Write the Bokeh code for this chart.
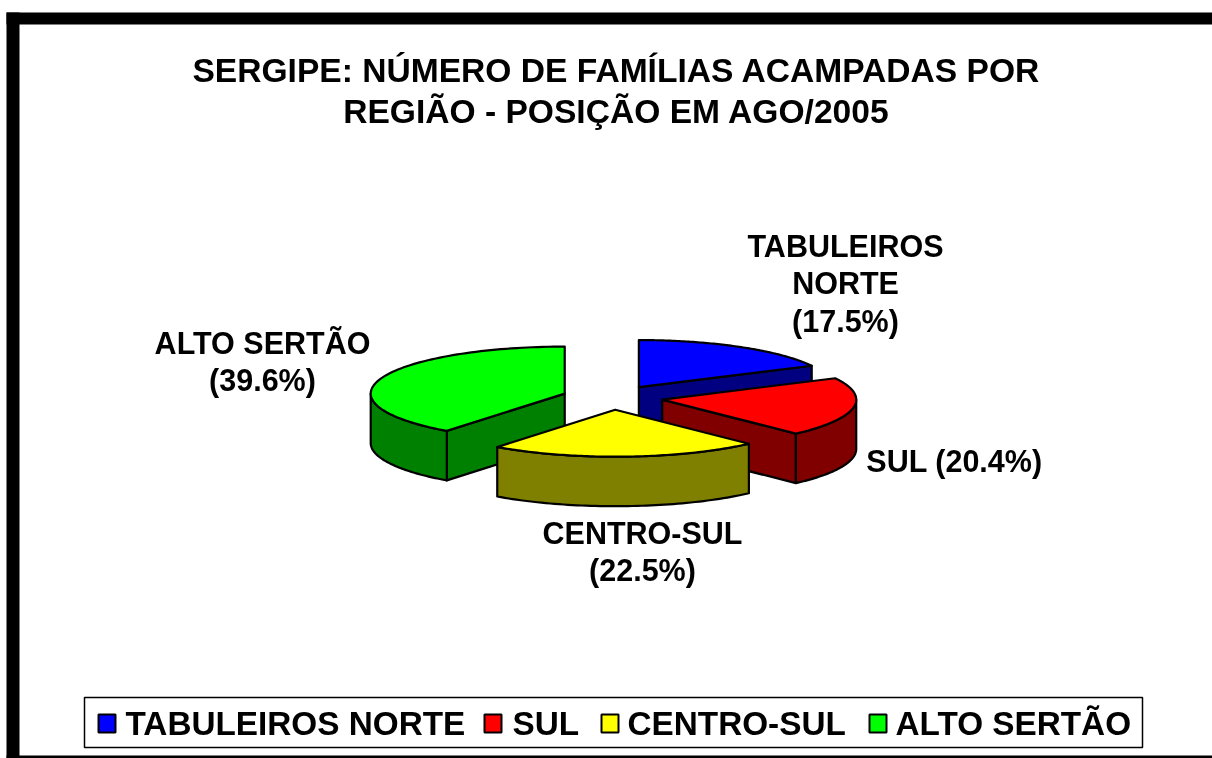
import numpy as np
from bokeh.plotting import figure
from bokeh.core.properties import value
from bokeh.embed import file_html
from bokeh.resources import INLINE

TITLE_LINES = ["SERGIPE: NÚMERO DE FAMÍLIAS ACAMPADAS POR", "REGIÃO - POSIÇÃO EM AGO/2005"]
regions = ["TABULEIROS NORTE", "SUL", "CENTRO-SUL", "ALTO SERTÃO"]
shares = [17.5, 20.4, 22.5, 39.6]
top_colors = ["#0000FF", "#FF0000", "#FFFF00", "#00FF00"]
side_colors = ["#000080", "#800000", "#808000", "#008000"]
slice_labels = [["TABULEIROS", "NORTE", "(17.5%)"], ["SUL (20.4%)"], ["CENTRO-SUL", "(22.5%)"], ["ALTO SERTÃO", "(39.6%)"]]
label_pos = [(845, 245), (954, 460), (642, 532), (262, 342)]

W, H = 1212, 758
CX, CY, A, B, DEPTH, EXPLODE = 612, 397, 194, 47, 49.5, 0.26
FONT = value("Liberation Sans")

p = figure(width=W, height=H, x_range=(0, W), y_range=(H, 0), toolbar_location=None,
           output_backend="svg", min_border=0, outline_line_color=None,
           background_fill_color="white", border_fill_color="white")
p.styles = {"position": "fixed", "left": "0px", "top": "0px"}
p.xaxis.visible = False
p.yaxis.visible = False
p.grid.visible = False

# page frame
p.quad(left=[6, 6, 6], right=[19, W, W], top=[12, 12, 755], bottom=[H, 24, H], color="black", line_width=0)


def pt(theta, ax, ay, r=1.0):
    return ax + r * A * np.sin(theta), ay - r * B * np.cos(theta)


edges = np.radians(np.concatenate([[0], np.cumsum(shares)]) * 3.6)
edges[-1] = 2 * np.pi
LW = 2.2
for i in [0, 1, 3, 2]:
    a0, a1 = edges[i], edges[i + 1]
    mid = (a0 + a1) / 2
    ax, ay = pt(mid, CX, CY, EXPLODE)
    # radial faces turned towards the viewer
    for th, sgn in ((a0, -1), (a1, 1)):
        if np.cos(th + sgn * np.pi / 2) < -1e-6:
            ex, ey = pt(th, ax, ay)
            p.patch([ax, ex, ex, ax], [ay, ey, ey + DEPTH, ay + DEPTH],
                    fill_color=side_colors[i], line_color="black", line_width=LW, line_join="round")
    # outer wall
    lo, hi = max(a0, np.pi / 2), min(a1, 3 * np.pi / 2)
    if hi > lo:
        t = np.linspace(lo, hi, 60)
        wx, wy = pt(t, ax, ay)
        p.patch(np.r_[wx, wx[::-1]], np.r_[wy, wy[::-1] + DEPTH],
                fill_color=side_colors[i], line_color="black", line_width=LW, line_join="round")
    # top
    t = np.linspace(a0, a1, 90)
    tx, ty = pt(t, ax, ay)
    p.patch(np.r_[ax, tx], np.r_[ay, ty], fill_color=top_colors[i], line_color="black",
            line_width=LW, line_join="round")

# title
p.text(x=[616, 616], y=[70, 111], text=TITLE_LINES, text_font=FONT, text_font_style="bold",
       text_font_size="33.6px", text_align="center", text_baseline="middle", text_color="black")

# slice labels
for lines, (lx, ly) in zip(slice_labels, label_pos):
    ys = [ly + 37.5 * k for k in range(len(lines))]
    p.text(x=[lx] * len(lines), y=ys, text=lines, text_font=FONT, text_font_style="bold",
           text_font_size="30.5px", text_align="center", text_baseline="middle", text_color="black")

# legend
p.quad(left=[84], right=[1142], top=[697], bottom=[747], fill_color="white", line_color="black", line_width=1.5)
swatch_x = [98, 484, 601, 869]
text_x = [125, 512, 627, 895]
p.quad(left=swatch_x, right=[s + 17 for s in swatch_x], top=[714] * 4, bottom=[732] * 4,
       fill_color=top_colors, line_color="black", line_width=2)
p.text(x=text_x, y=[723] * 4, text=regions, text_font=FONT, text_font_style="bold",
       text_font_size="33.3px", text_align="left", text_baseline="middle", text_color="black")

open("out.html", "w").write(file_html(p, INLINE))
